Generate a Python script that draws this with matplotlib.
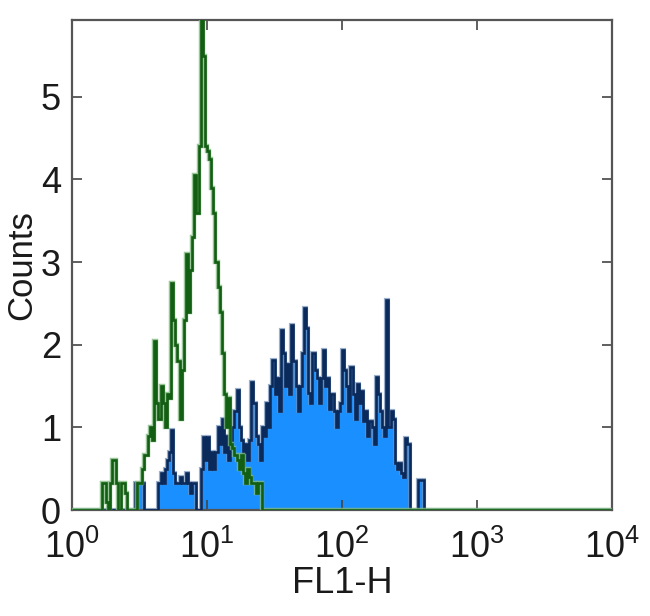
"""Flow histogram: FL1-H (log) vs counts, isotype outline (green) over stained sample (blue fill)."""

import matplotlib

matplotlib.use("Agg")
import matplotlib.pyplot as plt
import numpy as np

# 256 log channels spanning 10^0 .. 10^4 (64 channels per decade)
N_CHANNELS = 256
DECADES = 4

# isotype control, channels starting at GREEN_START
GREEN_START = 14
GREEN_COUNTS = [
    0.33, 0.33, 0.10, 0.00, 0.33, 0.60, 0.60, 0.33, 0.00, 0.33,   # 14-23
    0.33, 0.20, 0.00, 0.00, 0.00, 0.00, 0.00, 0.33, 0.33, 0.50,   # 24-33
    0.67, 0.67, 0.90, 1.00, 0.85, 2.05, 1.30, 1.10, 1.50, 1.30,   # 34-43
    1.00, 1.40, 1.35, 2.75, 2.30, 2.00, 1.80, 1.10, 1.70, 2.30,   # 44-53
    3.10, 2.40, 2.90, 3.30, 4.05, 3.60, 4.40, 5.93, 5.50, 4.40,   # 54-63
    4.35, 4.25, 3.90, 3.60, 3.00, 2.70, 2.40, 1.90, 1.40, 1.00,   # 64-73
    1.35, 0.80, 0.75, 0.67, 0.60, 0.50, 0.67, 0.45, 0.33, 0.50,   # 74-83
    0.40, 0.33, 0.33, 0.20, 0.33, 0.33,                           # 84-89
]

# stained sample, channels starting at BLUE_START
BLUE_START = 30
BLUE_COUNTS = [
    0.33, 0.33, 0.33, 0.33, 0.00, 0.00, 0.00, 0.00, 0.00, 0.00,   # 30-39
    0.00, 0.33, 0.45, 0.33, 0.50, 0.60, 0.70, 0.97, 0.45, 0.33,   # 40-49
    0.33, 0.40, 0.33, 0.33, 0.45, 0.33, 0.20, 0.33, 0.33, 0.00,   # 50-59
    0.00, 0.50, 0.88, 0.60, 0.88, 0.50, 0.70, 0.50, 0.70, 1.00,   # 60-69
    0.80, 1.10, 0.70, 0.90, 0.60, 0.80, 1.00, 1.20, 1.45, 1.00,   # 70-79
    0.85, 0.70, 0.80, 0.60, 0.85, 1.55, 1.30, 0.90, 0.80, 0.60,   # 80-89
    1.00, 0.90, 1.30, 1.00, 1.50, 1.82, 1.40, 1.60, 1.20, 2.18,   # 90-99
    1.90, 1.50, 1.77, 1.40, 2.24, 1.80, 1.50, 1.20, 1.50, 1.90,   # 100-109
    2.44, 2.20, 1.42, 1.30, 1.90, 1.70, 1.60, 1.30, 1.60, 1.94,   # 110-119
    1.50, 1.60, 1.22, 1.40, 1.20, 1.00, 1.20, 1.30, 1.94, 1.70,   # 120-129
    1.50, 1.20, 1.73, 1.40, 1.10, 1.53, 1.30, 1.44, 1.08, 1.20,   # 130-139
    0.90, 1.08, 1.00, 0.80, 1.61, 1.40, 1.20, 1.00, 0.90, 2.54,   # 140-149
    1.00, 1.20, 1.10, 0.57, 0.50, 0.57, 0.45, 0.40, 0.87, 0.80,   # 150-159
    0.00, 0.00, 0.00, 0.00, 0.36, 0.36, 0.36,                     # 160-166
]

X_LABEL = "FL1-H"
Y_LABEL = "Counts"
X_TICKS = [1, 10, 100, 1000, 10000]
Y_TICKS = [0, 1, 2, 3, 4, 5]
Y_MAX = 5.93

FILL_BLUE = "#1a8fff"
EDGE_NAVY = "#0b2a5c"
HALO_BLUE = "#6f8fb8"
GREEN = "#125e12"
HALO_GREEN = "#7fb87f"
TEXT = "#1a1a1a"


def channel_array(start, counts):
    out = np.zeros(N_CHANNELS)
    out[start:start + len(counts)] = counts
    return out


def main():
    plt.rcParams["font.family"] = ["Liberation Sans", "DejaVu Sans"]
    edges = 10 ** (np.arange(N_CHANNELS + 1) * DECADES / N_CHANNELS)
    blue = channel_array(BLUE_START, BLUE_COUNTS)
    green = channel_array(GREEN_START, GREEN_COUNTS)

    fig = plt.figure(figsize=(6.5, 6.16), dpi=100)
    ax = fig.add_axes([72 / 650, 1 - 510 / 616, 540 / 650, 490 / 616])

    ax.stairs(blue, edges, fill=True, color=FILL_BLUE, zorder=1)
    ax.stairs(blue, edges, color=HALO_BLUE, lw=3.0, alpha=0.7, zorder=2)
    ax.stairs(blue, edges, color=EDGE_NAVY, lw=1.9, zorder=3)
    ax.stairs(green, edges, color=HALO_GREEN, lw=3.2, alpha=0.8, zorder=4)
    ax.stairs(green, edges, color=GREEN, lw=1.9, zorder=5)

    ax.set_xscale("log")
    ax.set_xlim(X_TICKS[0], X_TICKS[-1])
    ax.set_ylim(0, Y_MAX)
    ax.set_xticks(X_TICKS)
    ax.set_yticks(Y_TICKS)
    ax.xaxis.set_minor_locator(matplotlib.ticker.NullLocator())
    ax.tick_params(direction="in", length=7, width=1.2, color="#444444",
                   top=True, right=True, labelsize=26, labelcolor=TEXT, pad=8)
    ax.tick_params(axis="x", pad=14)
    for sp in ax.spines.values():
        sp.set_color("#555555")
        sp.set_linewidth(1.6)

    ax.set_xlabel(X_LABEL, fontsize=26, color=TEXT, labelpad=0)
    ax.set_ylabel(Y_LABEL, fontsize=25, color=TEXT, labelpad=2)

    fig.savefig("out.png", dpi=100, facecolor="white")


if __name__ == "__main__":
    main()
